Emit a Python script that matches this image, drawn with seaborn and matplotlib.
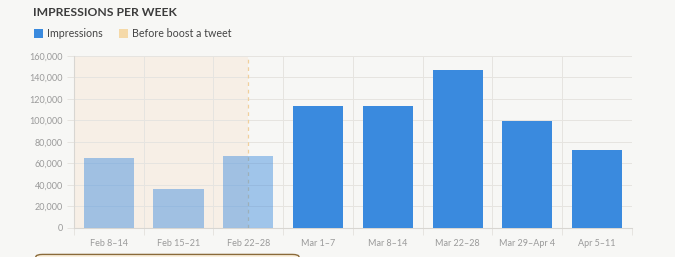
import matplotlib
matplotlib.use("Agg")
import matplotlib.pyplot as plt
import seaborn as sns
import pandas as pd
from matplotlib.patches import Patch, FancyBboxPatch
from matplotlib.ticker import FuncFormatter, FixedLocator

weeks = ["Feb 8\u201314", "Feb 15\u201321", "Feb 22\u201328", "Mar 1\u20137",
         "Mar 8\u201314", "Mar 22\u201328", "Mar 29\u2013Apr 4", "Apr 5\u201311"]
impressions = [65000, 36000, 67000, 113000, 113000, 147000, 99000, 72000]
phase = ["Before", "Before", "Before", "After", "After", "After", "After", "After"]
y_ticks = [0, 20000, 40000, 60000, 80000, 100000, 120000, 140000, 160000]

df = pd.DataFrame({"week": weeks, "impressions": impressions, "phase": phase})

BG = "#f7f7f5"
BLUE = "#3a8ade"
SHADE = "#f7efe6"
GRID = "#e6e4e0"
TXT = "#9a9a9a"

sns.set_theme(style="white")
plt.rcParams["font.family"] = ["Lato", "DejaVu Sans"]

fig = plt.figure(figsize=(6.75, 2.57), dpi=100, facecolor=BG)
ax = fig.add_axes([0.1096, 0.1136, 0.8267, 0.6694])
ax.set_facecolor(BG)

sns.barplot(data=df, x="week", y="impressions", hue="phase",
            palette={"Before": BLUE, "After": BLUE},
            dodge=False, width=0.72, legend=False, ax=ax, zorder=3,
            edgecolor="none", saturation=1)

# semi-transparent bars for the "before" weeks
for bar in ax.patches:
    cx = bar.get_x() + bar.get_width() / 2
    idx = int(round(cx))
    if 0 <= idx < len(phase) and phase[idx] == "Before":
        bar.set_alpha(0.46)

n = len(weeks)
ax.set_xlim(-0.5, n - 0.5)
ax.set_ylim(0, 160000)
ax.axvspan(-0.5, 2.0, color=SHADE, zorder=0, lw=0)
ax.axvline(2.0, color="#f0cf9c", ls=(0, (3, 3)), lw=0.9, zorder=2)

ax.yaxis.set_major_locator(FixedLocator(y_ticks))
ax.yaxis.set_major_formatter(FuncFormatter(lambda v, p: f"{int(v):,}"))
ax.set_xticks(range(n))
ax.set_xticklabels(weeks)
ax.set_xticks([i - 0.5 for i in range(n + 1)], minor=True)

ax.grid(axis="y", color=GRID, lw=0.7, zorder=1)
ax.grid(axis="x", which="minor", color=GRID, lw=0.7, zorder=1)
ax.grid(axis="x", which="major", visible=False)
ax.set_axisbelow(True)

ax.tick_params(axis="y", which="major", length=5, width=0.7, color=GRID,
               labelsize=6.5, labelcolor=TXT, pad=3, left=True)
ax.tick_params(axis="x", which="major", length=0, labelsize=6.5,
               labelcolor=TXT, pad=8)
ax.tick_params(axis="x", which="minor", length=5, width=0.7, color=GRID,
               bottom=True)

for s in ["top", "right"]:
    ax.spines[s].set_visible(False)
for s in ["left", "bottom"]:
    ax.spines[s].set_color("#d8d6d2")
    ax.spines[s].set_linewidth(0.8)

ax.set_xlabel("")
ax.set_ylabel("")

fig.text(0.049, 0.95, "IMPRESSIONS PER WEEK", fontsize=8.7, fontweight="bold",
         color="#3c3c3c", va="center", ha="left")

handles = [Patch(facecolor=BLUE, edgecolor="none", label="Impressions"),
           Patch(facecolor="#f5d9a8", edgecolor="none", label="Before boost a tweet")]
fig.legend(handles=handles, loc="center left", bbox_to_anchor=(0.036, 0.87),
           ncol=2, frameon=False, fontsize=7.7, handlelength=0.85,
           handleheight=0.9, handletextpad=0.4, columnspacing=1.5,
           labelcolor="#444444")

box = FancyBboxPatch((0.053, -0.05), 0.39, 0.06, transform=fig.transFigure,
                     boxstyle="round,pad=0,rounding_size=0.01",
                     facecolor="#fbf0de", edgecolor="#8a6a3a", lw=1.0)
fig.patches.append(box)

fig.savefig("out.png", dpi=100, facecolor=BG)
